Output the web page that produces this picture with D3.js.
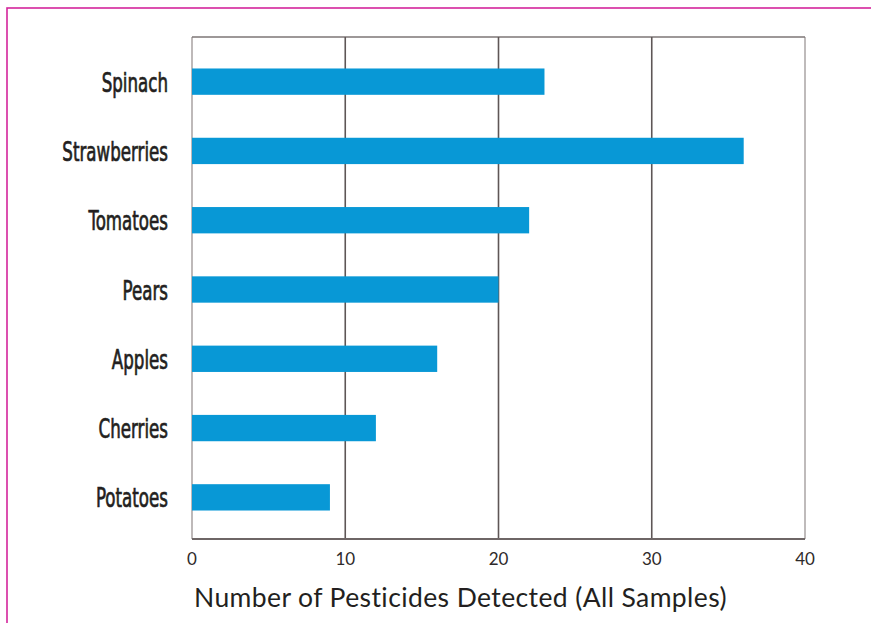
<!DOCTYPE html>
<html>
<head>
<meta charset="utf-8">
<script src="https://cdn.jsdelivr.net/npm/d3@7"></script>
<style>
  html, body { margin: 0; padding: 0; background: #fff; }
</style>
</head>
<body>
<svg id="chart" width="871" height="623"></svg>
<script>
const foods = ["Spinach", "Strawberries", "Tomatoes", "Pears", "Apples", "Cherries", "Potatoes"];
const pesticides = [23, 36, 22, 20, 16, 12, 9];
const xTicks = [0, 10, 20, 30, 40];
const axisTitle = "Number of Pesticides Detected (All Samples)";

const svg = d3.select("#chart");

// magenta page frame (right and bottom run off the picture)
svg.append("rect")
  .attr("x", 7).attr("y", 8)
  .attr("width", 900).attr("height", 700)
  .attr("fill", "none")
  .attr("stroke", "#d4259c")
  .attr("stroke-width", 1.6);

const plot = { left: 192, right: 805, top: 37, bottom: 539 };

const x = d3.scaleLinear().domain([0, 40]).range([plot.left, plot.right]);
const y = d3.scaleBand().domain(foods).range([47, 532]).paddingInner(0.62).paddingOuter(0.31);

// frame of plot area
svg.append("line").attr("x1", plot.left).attr("x2", plot.left)
  .attr("y1", plot.top).attr("y2", plot.bottom)
  .attr("stroke", "#a8a2a2").attr("stroke-width", 1.5);
svg.append("line").attr("x1", plot.right).attr("x2", plot.right)
  .attr("y1", plot.top).attr("y2", plot.bottom)
  .attr("stroke", "#aaa4a4").attr("stroke-width", 1.5);
svg.append("line").attr("x1", plot.left).attr("x2", plot.right)
  .attr("y1", plot.top).attr("y2", plot.top)
  .attr("stroke", "#7d7676").attr("stroke-width", 1.5);

// gridlines
svg.append("g").selectAll("line")
  .data(xTicks.filter(d => d > 0 && d < 40))
  .join("line")
  .attr("x1", d => x(d)).attr("x2", d => x(d))
  .attr("y1", plot.top).attr("y2", plot.bottom)
  .attr("stroke", "#5e5656").attr("stroke-width", 1.6);

// bars
svg.append("g").selectAll("rect")
  .data(foods)
  .join("rect")
  .attr("x", x(0))
  .attr("y", d => y(d))
  .attr("width", (d, i) => x(pesticides[i]) - x(0))
  .attr("height", y.bandwidth())
  .attr("fill", "#0898d6");

// bottom axis line
svg.append("line").attr("x1", plot.left).attr("x2", plot.right)
  .attr("y1", plot.bottom).attr("y2", plot.bottom)
  .attr("stroke", "#6e6666").attr("stroke-width", 1.8);

// tick labels
svg.append("g").selectAll("text")
  .data(xTicks)
  .join("text")
  .attr("x", d => x(d))
  .attr("y", 565)
  .attr("text-anchor", "middle")
  .attr("fill", "#2e2a2a")
  .style("font-family", "Lato, 'Noto Sans', sans-serif")
  .style("font-size", "17px")
  .text(d => d);

// category labels, condensed
const labels = svg.append("g").selectAll("g")
  .data(foods)
  .join("g")
  .attr("transform", d => `translate(168,${y(d) + y.bandwidth() / 2 + 10}) scale(0.7,1)`);
labels.append("text")
  .attr("text-anchor", "end")
  .attr("fill", "#231f20")
  .attr("stroke", "#231f20")
  .attr("stroke-width", 0.7)
  .style("font-family", "'Liberation Sans Narrow', 'DejaVu Sans Condensed', sans-serif")
  .style("font-size", "26.5px")
  .text(d => d);

// axis title
svg.append("text")
  .attr("x", 194)
  .attr("y", 607)
  .attr("fill", "#231f20")
  .style("font-family", "Lato, 'Noto Sans', sans-serif")
  .style("font-size", "26.5px")
  .style("letter-spacing", "0.4px")
  .text(axisTitle);
</script>
</body>
</html>
